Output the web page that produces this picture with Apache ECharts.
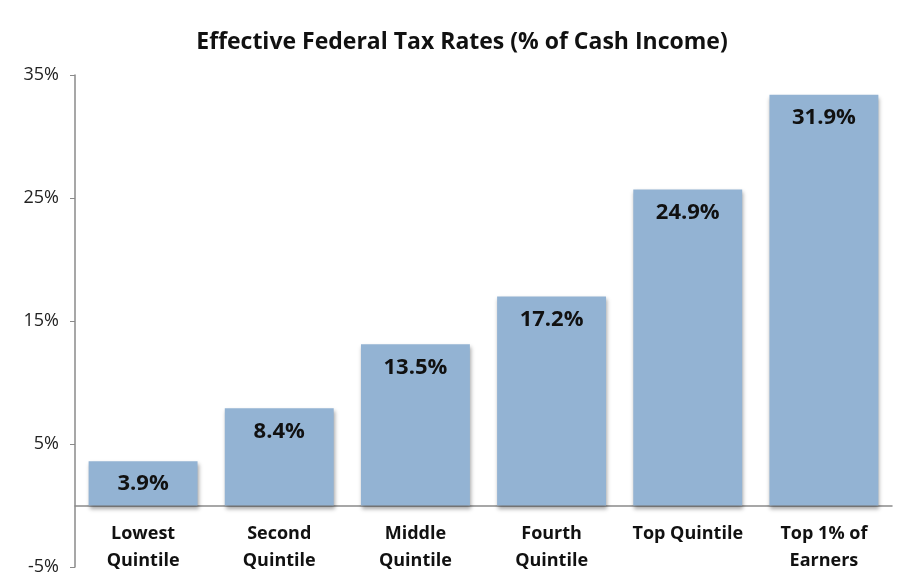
<!DOCTYPE html>
<html>
<head>
<meta charset="utf-8">
<title>Effective Federal Tax Rates</title>
<script src="https://cdn.jsdelivr.net/npm/echarts@6/dist/echarts.min.js"></script>
<style>
    html, body { margin: 0; padding: 0; background: #fff; }
    #chart { width: 897px; height: 586px; }
</style>
</head>
<body>
<div id="chart"></div>
<script>
// 数据
var categories = ['Lowest\nQuintile', 'Second\nQuintile', 'Middle\nQuintile', 'Fourth\nQuintile', 'Top Quintile', 'Top 1% of\nEarners'];
// bar heights as drawn in the picture
var barValues = [3.6, 7.9, 13.1, 17.0, 25.7, 33.4];
// labels printed on the bars
var barLabels = ['3.9%', '8.4%', '13.5%', '17.2%', '24.9%', '31.9%'];
var yTicks = { min: -5, max: 35, interval: 10 };

(function () {
    var myChart = echarts.init(document.getElementById('chart'));
    var font = '"Open Sans", Lato, sans-serif';
    var option = {
        animation: false,
        title: {
            text: 'Effective Federal Tax Rates (% of Cash Income)',
            left: 457,
            textAlign: 'center',
            top: 26,
            textStyle: {
                fontFamily: font,
                fontSize: 23,
                fontWeight: 'bold',
                color: '#111'
            }
        },
        grid: {
            left: 75,
            right: 5,
            top: 75,
            bottom: 19,
            outerBoundsMode: 'none',
            containLabel: false
        },
        xAxis: {
            type: 'category',
            data: categories,
            axisLine: {
                onZero: true,
                lineStyle: { color: '#8a8a8a', width: 1.5 }
            },
            axisTick: { show: false },
            axisLabel: {
                // labels sit under the zero line, not under the grid edge
                margin: -47,
                interval: 0,
                fontFamily: font,
                fontSize: 18,
                fontWeight: 'bold',
                lineHeight: 27,
                color: '#111'
            }
        },
        yAxis: {
            type: 'value',
            min: yTicks.min,
            max: yTicks.max,
            interval: yTicks.interval,
            axisLine: {
                show: true,
                lineStyle: { color: '#8a8a8a', width: 1.5 }
            },
            axisTick: {
                show: true,
                length: 5,
                lineStyle: { color: '#8a8a8a' }
            },
            splitLine: { show: false },
            axisLabel: {
                formatter: '{value}%',
                margin: 16,
                fontFamily: font,
                fontSize: 18,
                color: '#222'
            }
        },
        series: [
            {
                type: 'bar',
                data: barValues,
                barCategoryGap: '20%',
                itemStyle: {
                    color: '#93b3d3',
                    shadowColor: 'rgba(0,0,0,0.35)',
                    shadowBlur: 4,
                    shadowOffsetX: 1,
                    shadowOffsetY: 3
                },
                label: {
                    show: true,
                    position: 'insideTop',
                    distance: 12,
                    formatter: function (p) {
                        return barLabels[p.dataIndex];
                    },
                    fontFamily: font,
                    fontSize: 22,
                    fontWeight: 'bold',
                    color: '#111'
                }
            }
        ]
    };
    myChart.setOption(option);
    window.addEventListener('resize', function () {
        myChart.resize();
    });
})();
</script>
</body>
</html>
